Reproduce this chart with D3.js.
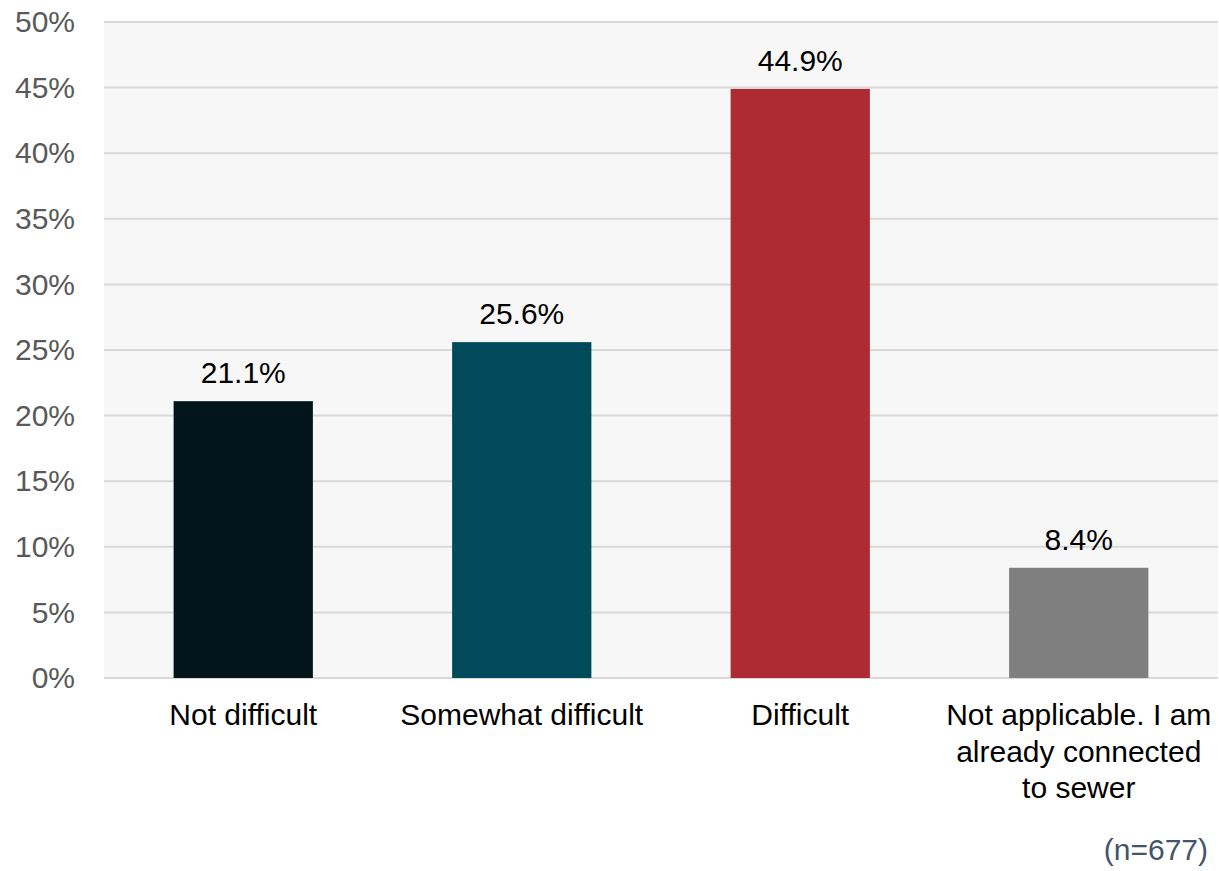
<!DOCTYPE html>
<html><head><meta charset="utf-8">
<script src="https://cdn.jsdelivr.net/npm/d3@7"></script>
<style>body{margin:0;background:#fff;} svg{display:block;}</style>
</head><body>
<svg id="c" width="1219" height="871"></svg>
<script>
const categories = ["Not difficult", "Somewhat difficult", "Difficult", "Not applicable. I am|already connected|to sewer"];
const values = [21.1, 25.6, 44.9, 8.4];
const colors = ["#02151b", "#004a5c", "#ae2b33", "#7f7f7f"];
const yTicks = [0, 5, 10, 15, 20, 25, 30, 35, 40, 45, 50];
const note = "(n=677)";

const svg = d3.select("#c");
const font = "'Liberation Sans', Arial, sans-serif";
const fs = 30;
const L = 104, R = 1218, T = 22, B = 678;
const x = d3.scaleBand().domain(categories).range([L, R]).paddingInner(0.5).paddingOuter(0.25);
const y = d3.scaleLinear().domain([0, 50]).range([B, T]);

svg.append("rect").attr("x", L).attr("y", T).attr("width", R - L).attr("height", B - T).attr("fill", "#f7f7f7");

svg.append("g").selectAll("line").data(yTicks).join("line")
  .attr("x1", L).attr("x2", R).attr("y1", d => y(d)).attr("y2", d => y(d))
  .attr("stroke", "#d9d9d9").attr("stroke-width", 2);

const yAxis = d3.axisLeft(y).tickValues(yTicks).tickFormat(d => d + "%").tickSize(0).tickPadding(29);
const ga = svg.append("g").attr("transform", `translate(${L},0)`).call(yAxis);
ga.select(".domain").remove();
ga.selectAll("text").attr("font-family", font).attr("font-size", fs).attr("fill", "#595959");

svg.append("g").selectAll("rect").data(values).join("rect")
  .attr("x", (d, i) => x(categories[i])).attr("width", x.bandwidth())
  .attr("y", d => y(d)).attr("height", d => B - y(d))
  .attr("fill", (d, i) => colors[i]);

svg.append("g").selectAll("text").data(values).join("text")
  .attr("x", (d, i) => x(categories[i]) + x.bandwidth() / 2)
  .attr("y", d => y(d) - 18)
  .attr("text-anchor", "middle").attr("font-family", font).attr("font-size", fs).attr("fill", "#000")
  .text(d => d.toFixed(1) + "%");

const lab = svg.append("g").selectAll("text").data(categories).join("text")
  .attr("x", d => x(d) + x.bandwidth() / 2)
  .attr("y", 725)
  .attr("text-anchor", "middle").attr("font-family", font).attr("font-size", fs).attr("fill", "#000");
lab.each(function(d) {
  const parts = d.split("|");
  d3.select(this).selectAll("tspan").data(parts).join("tspan")
    .attr("x", x(d) + x.bandwidth() / 2).attr("dy", (p, i) => i === 0 ? 0 : 36.7).text(p => p);
});

svg.append("text").attr("x", 1208).attr("y", 860).attr("text-anchor", "end")
  .attr("font-family", font).attr("font-size", fs).attr("fill", "#44546a").text(note);
</script>
</body></html>
